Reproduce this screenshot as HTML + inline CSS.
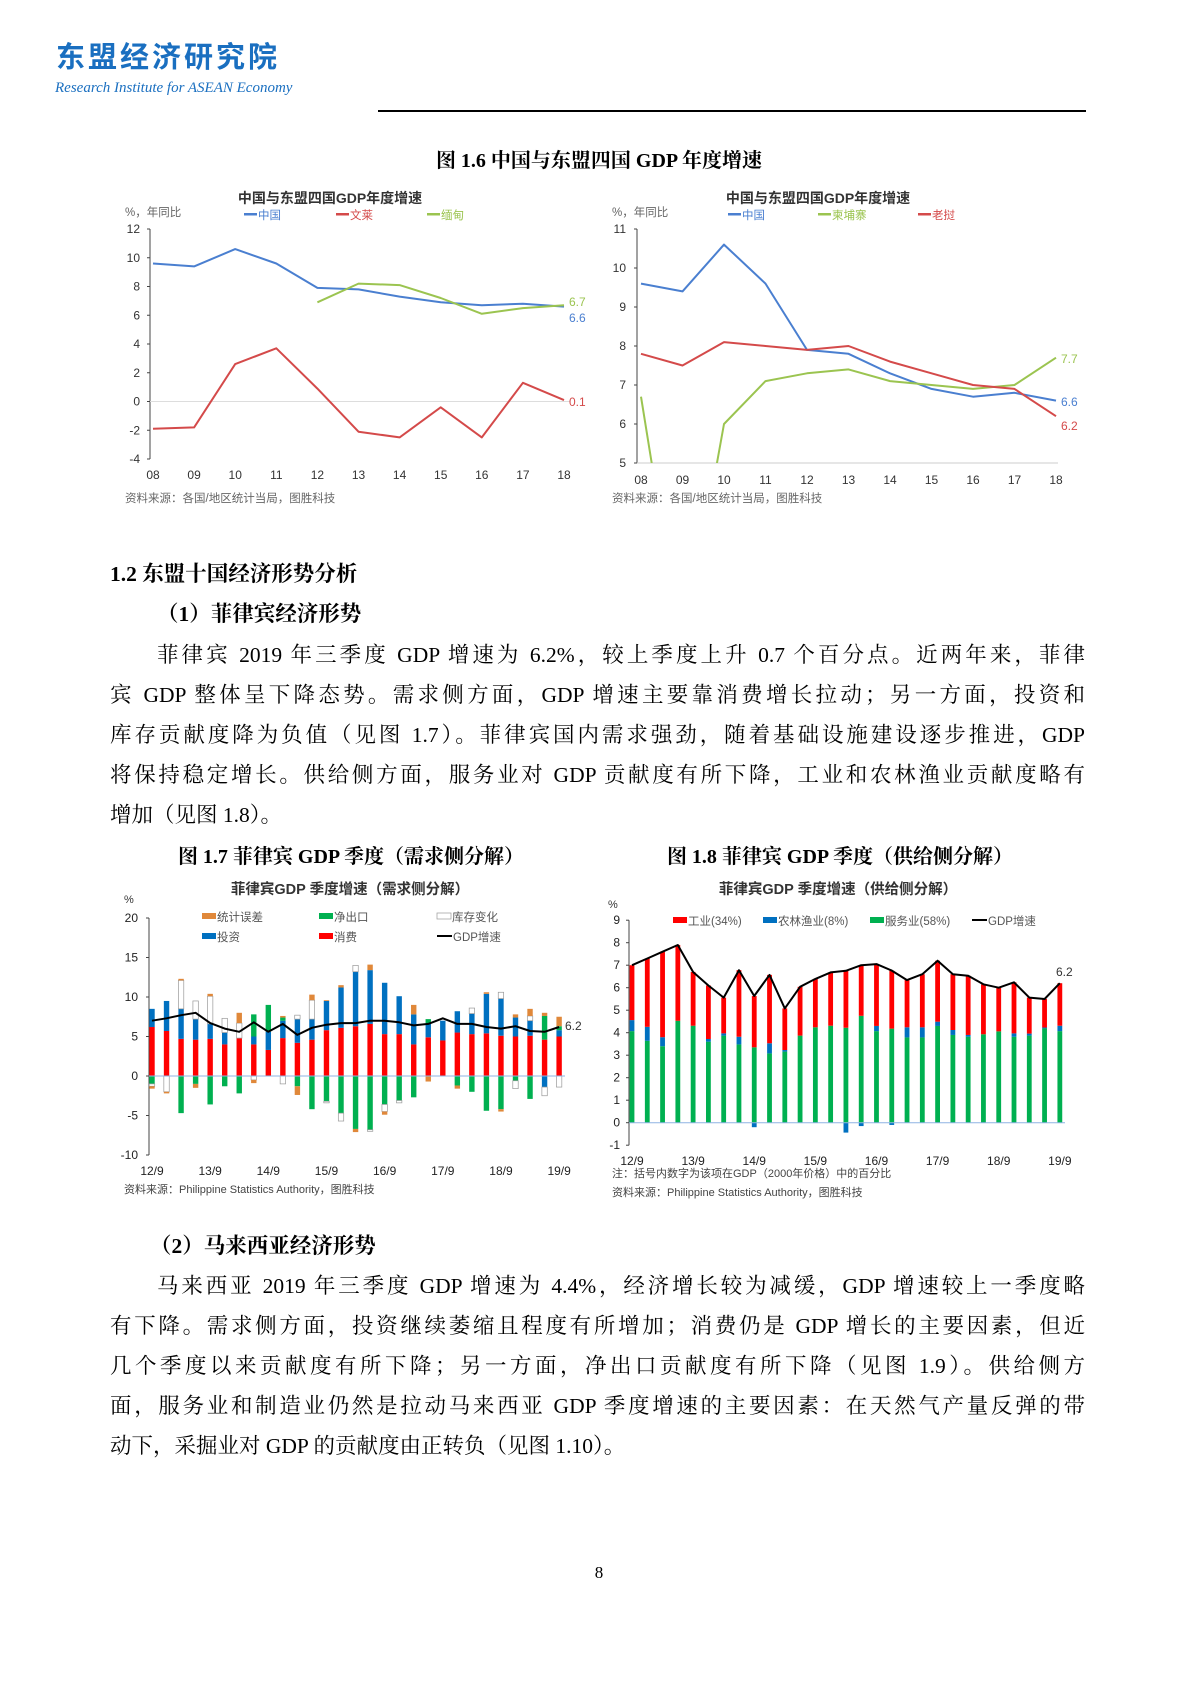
<!DOCTYPE html>
<html><head><meta charset="utf-8"><style>
body{margin:0;background:#fff;}
#page{position:relative;width:1191px;height:1684px;overflow:hidden;background:#fff;font-family:"Liberation Serif","Noto Serif CJK SC",serif;color:#000;}
.a{position:absolute;white-space:nowrap;}
.p{position:absolute;left:110px;width:975px;font-size:21.5px;line-height:40px;text-align:justify;text-align-last:justify;white-space:nowrap;}
.h{font-weight:bold;}
svg text{font-family:"Liberation Sans","Noto Sans CJK SC",sans-serif;}
</style></head><body>
<div id="page">
<div class="a" style="left:56px;top:34px;font-size:29px;font-weight:bold;color:#1a6fc0;letter-spacing:3px;font-family:'Noto Sans CJK SC',sans-serif;">东盟经济研究院</div>
<div class="a" style="left:55px;top:80px;font-size:15px;font-style:italic;color:#1a6fc0;">Research Institute for ASEAN Economy</div>
<div class="a" style="left:378px;top:110px;width:708px;height:2px;background:#000;"></div>
<div class="a h" style="left:599px;top:144px;transform:translateX(-50%);font-size:20px;">图 1.6 中国与东盟四国 GDP 年度增速</div>

<svg class="a" style="left:0;top:0" width="1191" height="1684">
<defs><clipPath id="clipR"><rect x="637" y="225" width="440" height="238"/></clipPath></defs>
<g id="c16l"></g>
<g id="c16r"></g>
<g id="c17"></g>
<g id="c18"></g>
</svg>

<div class="a h" style="left:110px;top:557px;font-size:21.5px;">1.2 东盟十国经济形势分析</div>
<div class="a h" style="left:157px;top:597px;font-size:21.5px;">（1）菲律宾经济形势</div>
<div>
<div class="p" style="top:635px;left:157px;width:928px;">菲律宾 2019 年三季度 GDP 增速为 6.2%，较上季度上升 0.7 个百分点。近两年来，菲律</div>
<div class="p" style="top:675px;">宾 GDP 整体呈下降态势。需求侧方面，GDP 增速主要靠消费增长拉动；另一方面，投资和</div>
<div class="p" style="top:715px;">库存贡献度降为负值（见图 1.7）。菲律宾国内需求强劲，随着基础设施建设逐步推进，GDP</div>
<div class="p" style="top:755px;">将保持稳定增长。供给侧方面，服务业对 GDP 贡献度有所下降，工业和农林渔业贡献度略有</div>
<div class="p" style="top:795px;text-align-last:left;">增加（见图 1.8）。</div>
</div>
<div class="a h" style="left:351px;top:840px;transform:translateX(-50%);font-size:20px;">图 1.7 菲律宾 GDP 季度（需求侧分解）</div>
<div class="a h" style="left:840px;top:840px;transform:translateX(-50%);font-size:20px;">图 1.8 菲律宾 GDP 季度（供给侧分解）</div>

<div class="a h" style="left:150px;top:1229px;font-size:21.5px;">（2）马来西亚经济形势</div>
<div>
<div class="p" style="top:1266px;left:157px;width:928px;">马来西亚 2019 年三季度 GDP 增速为 4.4%，经济增长较为减缓，GDP 增速较上一季度略</div>
<div class="p" style="top:1306px;">有下降。需求侧方面，投资继续萎缩且程度有所增加；消费仍是 GDP 增长的主要因素，但近</div>
<div class="p" style="top:1346px;">几个季度以来贡献度有所下降；另一方面，净出口贡献度有所下降（见图 1.9）。供给侧方</div>
<div class="p" style="top:1386px;">面，服务业和制造业仍然是拉动马来西亚 GDP 季度增速的主要因素：在天然气产量反弹的带</div>
<div class="p" style="top:1426px;text-align-last:left;">动下，采掘业对 GDP 的贡献度由正转负（见图 1.10）。</div>
</div>
<div class="a" style="left:599px;top:1563px;transform:translateX(-50%);font-size:17px;">8</div>
</div>

<script>
// ---- Chart 1.6 data ----
const years = ["08","09","10","11","12","13","14","15","16","17","18"];
const chinaGdp = [9.6,9.4,10.6,9.6,7.9,7.8,7.3,6.9,6.7,6.8,6.6];
const bruneiGdp = [-1.9,-1.8,2.6,3.7,0.9,-2.1,-2.5,-0.4,-2.5,1.3,0.1];
const myanmarGdp = [null,null,null,null,6.9,8.2,8.1,7.2,6.1,6.5,6.7];
const cambodiaGdp = [6.7,0.1,6.0,7.1,7.3,7.4,7.1,7.0,6.9,7.0,7.7];
const laosGdp = [7.8,7.5,8.1,8.0,7.9,8.0,7.6,7.3,7.0,6.9,6.2];
const leftTicks = [12,10,8,6,4,2,0,-2,-4];
const rightTicks = [11,10,9,8,7,6,5];
// ---- Chart 1.7 data ----
const quarters = ["12/9","","","","13/9","","","","14/9","","","","15/9","","","","16/9","","","","17/9","","","","18/9","","","","19/9"];
const consumption = [6.2,5.7,4.7,4.6,4.7,4.0,4.8,4.0,3.3,4.8,4.2,4.6,5.8,6.1,6.3,6.6,5.3,5.3,4.0,4.9,4.5,5.5,5.3,5.4,5.1,5.0,5.1,4.6,5.0];
const investment = [2.3,3.8,3.8,2.6,1.9,1.5,0,1.0,2.3,2.2,3.0,2.6,3.7,5.1,6.9,6.8,6.5,4.8,3.8,1.8,2.5,2.7,2.6,5.0,4.7,2.4,1.9,-1.4,0.8];
const netExports = [-1.0,0,-4.7,-1.0,-3.6,-1.3,-2.2,2.8,3.4,0.4,-1.3,-4.2,-3.2,-4.7,-6.7,-6.8,-3.6,-3.1,-2.7,0.5,0,-1.2,-2.0,-4.4,-4.2,-0.6,-2.9,3.0,0.5];
const inventory = [-0.3,-2.0,3.6,2.3,3.5,1.8,1.9,-0.5,0,-1.0,0.5,2.4,-0.2,-1.0,0.8,-0.2,-0.9,-0.3,0,0,0,0,0.7,0,0.8,-1.0,0.6,-1.1,-1.4];
const statDiscrepancy = [-0.3,-0.2,0.2,-0.5,0.3,0,1.3,-0.4,0,0.2,-1.1,0.7,0.1,0.3,-0.4,0.7,-0.4,0,1.2,-0.7,0,-0.4,0,0.2,-0.3,0.4,0.9,0.4,1.2];
const gdpDemand = [7.0,7.3,7.7,8.0,6.7,6.0,5.6,6.8,5.6,6.6,5.2,6.1,6.5,6.7,6.7,7.0,7.0,6.8,6.4,6.6,7.3,6.6,6.6,6.2,6.0,6.3,5.7,5.6,6.2];
const demandTicks = [20,15,10,5,0,-5,-10];
// ---- Chart 1.8 data ----
const services = [4.07,3.64,3.4,4.53,4.31,3.6,3.87,3.48,3.35,3.08,3.16,3.87,4.24,4.31,4.22,4.75,4.07,4.18,3.79,3.79,4.3,3.9,3.82,3.93,4.06,3.82,3.87,4.19,4.07];
const agriculture = [0.49,0.62,0.4,0,0,0.12,0.1,0.34,-0.2,0.45,0.07,0,0,0,-0.44,-0.15,0.23,-0.1,0.45,0.45,0.19,0.22,0.08,0,0,0.15,0.09,0.04,0.24];
const gdpSupply = [7.0,7.3,7.6,7.9,6.7,6.1,5.56,6.78,5.63,6.57,5.08,6.04,6.39,6.68,6.75,7.0,7.05,6.76,6.34,6.6,7.2,6.6,6.53,6.15,6.0,6.24,5.56,5.5,6.2];
const supplyTicks = [9,8,7,6,5,4,3,2,1,0,-1];

const NS="http://www.w3.org/2000/svg";
function mk(parent,tag,attrs,txt){const e=document.createElementNS(NS,tag);for(const k in attrs)e.setAttribute(k,attrs[k]);if(txt!==undefined)e.textContent=txt;parent.appendChild(e);return e;}
function lineFrom(g,vals,xf,yf,color,w,clip,name){let d="";let pen=false;vals.forEach((v,i)=>{if(v===null){pen=false;return;}d+=(pen?"L":"M")+xf(i).toFixed(1)+" "+yf(v).toFixed(1);pen=true;});
 const p=mk(g,"path",{d:d,fill:"none",stroke:color,"stroke-width":w,"stroke-linejoin":"round"});if(clip)p.setAttribute("clip-path",clip);
 
 
 return p;}

// ---- Chart 1.6 left ----
(function(){
 const g=document.getElementById("c16l");
 const x=i=>153+i*41.1, y=v=>229+(12-v)*14.375;
 const blue="#4a7fd0",red="#d44a4a",green="#9bc450",grey="#666";
 mk(g,"text",{x:330,y:203,"font-size":14,"text-anchor":"middle","font-weight":"bold",fill:"#333"},"中国与东盟四国GDP年度增速");
 mk(g,"text",{x:125,y:216,"font-size":11.5,fill:grey},"%，年同比");
 [["中国",blue,244],["文莱",red,336],["缅甸",green,427]].forEach(l=>{const r=mk(g,"rect",{x:l[2],y:213,width:13,height:2.5,fill:l[1]});
  
  
  mk(g,"text",{x:l[2]+14,y:219,"font-size":11.5,fill:l[1]},l[0]);});
 mk(g,"line",{x1:150,y1:229,x2:150,y2:459,stroke:"#444","stroke-width":1});
 leftTicks.forEach(t=>{mk(g,"line",{x1:147,y1:y(t),x2:150,y2:y(t),stroke:"#444"});mk(g,"text",{x:140,y:y(t)+4,"font-size":12,"text-anchor":"end",fill:"#333"},t);});
 mk(g,"line",{x1:150,y1:y(0),x2:570,y2:y(0),stroke:"#ddd"});
 years.forEach((t,i)=>mk(g,"text",{x:x(i),y:479,"font-size":12,"text-anchor":"middle",fill:"#333"},t));
 lineFrom(g,chinaGdp,x,y,blue,2,null,"china-line");
 lineFrom(g,bruneiGdp,x,y,red,2,null,"brunei-line");
 lineFrom(g,myanmarGdp,x,y,green,2,null,"myanmar-line");
 mk(g,"text",{x:569,y:306,"font-size":12,fill:green},myanmarGdp[10]);
 mk(g,"text",{x:569,y:322,"font-size":12,fill:blue},chinaGdp[10]);
 mk(g,"text",{x:569,y:406,"font-size":12,fill:red},bruneiGdp[10]);
 mk(g,"text",{x:125,y:502,"font-size":11.5,fill:grey},"资料来源：各国/地区统计当局，图胜科技");
})();
// ---- Chart 1.6 right ----
(function(){
 const g=document.getElementById("c16r");
 const x=i=>641+i*41.5, y=v=>229+(11-v)*39;
 const blue="#4a7fd0",red="#d44a4a",green="#9bc450",grey="#666";
 mk(g,"text",{x:818,y:203,"font-size":14,"text-anchor":"middle","font-weight":"bold",fill:"#333"},"中国与东盟四国GDP年度增速");
 mk(g,"text",{x:612,y:216,"font-size":11.5,fill:grey},"%，年同比");
 [["中国",blue,728],["柬埔寨",green,818],["老挝",red,918]].forEach(l=>{const r=mk(g,"rect",{x:l[2],y:213,width:13,height:2.5,fill:l[1]});
  
  
  mk(g,"text",{x:l[2]+14,y:219,"font-size":11.5,fill:l[1]},l[0]);});
 mk(g,"line",{x1:637,y1:229,x2:637,y2:463,stroke:"#444"});
 mk(g,"line",{x1:637,y1:463,x2:1058,y2:463,stroke:"#ccc"});
 rightTicks.forEach(t=>{mk(g,"line",{x1:634,y1:y(t),x2:637,y2:y(t),stroke:"#444"});mk(g,"text",{x:626,y:y(t)+4,"font-size":12,"text-anchor":"end",fill:"#333"},t);});
 years.forEach((t,i)=>mk(g,"text",{x:x(i),y:484,"font-size":12,"text-anchor":"middle",fill:"#333"},t));
 lineFrom(g,chinaGdp,x,y,blue,2,"url(#clipR)","china-line");
 lineFrom(g,cambodiaGdp,x,y,green,2,"url(#clipR)","cambodia-line");
 lineFrom(g,laosGdp,x,y,red,2,"url(#clipR)","laos-line");
 mk(g,"text",{x:1061,y:363,"font-size":12,fill:green},cambodiaGdp[10]);
 mk(g,"text",{x:1061,y:406,"font-size":12,fill:blue},chinaGdp[10]);
 mk(g,"text",{x:1061,y:430,"font-size":12,fill:red},laosGdp[10]);
 mk(g,"text",{x:612,y:502,"font-size":11.5,fill:grey},"资料来源：各国/地区统计当局，图胜科技");
})();
// ---- Chart 1.7 ----
(function(){
 const g=document.getElementById("c17");
 const x=i=>152+i*14.54, y=v=>1076-v*7.9, bw=5.4;
 mk(g,"text",{x:350,y:894,"font-size":14.5,"text-anchor":"middle","font-weight":"bold",fill:"#333"},"菲律宾GDP 季度增速（需求侧分解）");
 mk(g,"text",{x:124,y:903,"font-size":11,fill:"#333"},"%");
 const leg=[["统计误差","#e0883a",202,917],["净出口","#00b050",319,917],["库存变化","#fff",437,917],["投资","#0070c0",202,937],["消费","#ff0000",319,937]];
 leg.forEach(l=>{const r=mk(g,"rect",{x:l[2],y:l[3]-4,width:14,height:6,fill:l[1],stroke:l[1]=="#fff"?"#999":"none","stroke-width":0.7});
  
  
  mk(g,"text",{x:l[2]+15,y:l[3]+4,"font-size":11.5,fill:"#555"},l[0]);});
 mk(g,"line",{x1:437,y1:936,x2:452,y2:936,stroke:"#000","stroke-width":2});
 mk(g,"text",{x:453,y:941,"font-size":11.5,fill:"#555"},"GDP增速");
 mk(g,"line",{x1:149,y1:y(20),x2:149,y2:y(-10),stroke:"#444"});
 demandTicks.forEach(t=>{mk(g,"line",{x1:146,y1:y(t),x2:149,y2:y(t),stroke:"#444"});mk(g,"text",{x:138,y:y(t)+4,"font-size":12,"text-anchor":"end",fill:"#222"},t);});
 const series=[[consumption,"#ff0000","consumption-bar"],[investment,"#0070c0","investment-bar"],[netExports,"#00b050","net-exports-bar"],[inventory,"#fff","inventory-bar"],[statDiscrepancy,"#e0883a","stat-discrepancy-bar"]];
 quarters.forEach((q,i)=>{let pos=0,neg=0;
  series.forEach(s=>{const v=s[0][i];if(!v)return;let y0,y1;if(v>0){y0=pos;y1=pos+v;pos=y1;}else{y0=neg;y1=neg+v;neg=y1;}
   const r=mk(g,"rect",{x:x(i)-bw/2,y:Math.min(y(y0),y(y1)),width:bw,height:Math.abs(y(y1)-y(y0)),fill:s[1],stroke:s[1]=="#fff"?"#999":"none","stroke-width":0.7});
   
   
  });});
 mk(g,"line",{x1:149,y1:y(0),x2:565,y2:y(0),stroke:"#8fb4e3"});
 lineFrom(g,gdpDemand,x,y,"#000",2,null,"gdp-line");
 mk(g,"text",{x:565,y:y(gdpDemand[28])+3,"font-size":12,fill:"#333"},gdpDemand[28]);
 quarters.forEach((q,i)=>{if(q)mk(g,"text",{x:x(i),y:1175,"font-size":12,"text-anchor":"middle",fill:"#222"},q);});
 mk(g,"text",{x:124,y:1193,"font-size":11,fill:"#444"},"资料来源：Philippine Statistics Authority，图胜科技");
})();
// ---- Chart 1.8 ----
(function(){
 const g=document.getElementById("c18");
 const x=i=>632+i*15.28, y=v=>1122.7-v*22.5, bw=4.8;
 mk(g,"text",{x:838,y:894,"font-size":14.5,"text-anchor":"middle","font-weight":"bold",fill:"#333"},"菲律宾GDP 季度增速（供给侧分解）");
 mk(g,"text",{x:608,y:908,"font-size":11,fill:"#333"},"%");
 [["工业(34%)","#ff0000",673],["农林渔业(8%)","#0070c0",763],["服务业(58%)","#00b050",870]].forEach(l=>{const r=mk(g,"rect",{x:l[2],y:917,width:14,height:6,fill:l[1]});
  
  
  mk(g,"text",{x:l[2]+15,y:925,"font-size":11.5,fill:"#555"},l[0]);});
 mk(g,"line",{x1:972,y1:920,x2:987,y2:920,stroke:"#000","stroke-width":2});
 mk(g,"text",{x:988,y:925,"font-size":11.5,fill:"#555"},"GDP增速");
 mk(g,"line",{x1:629,y1:y(9),x2:629,y2:y(-1),stroke:"#444"});
 supplyTicks.forEach(t=>{mk(g,"line",{x1:626,y1:y(t),x2:629,y2:y(t),stroke:"#444"});mk(g,"text",{x:620,y:y(t)+4,"font-size":12,"text-anchor":"end",fill:"#222"},t);});
 quarters.forEach((q,i)=>{
  const s=services[i],a=agriculture[i],ind=gdpSupply[i]-s-Math.max(a,0);
  let r=mk(g,"rect",{x:x(i)-bw/2,y:y(s),width:bw,height:y(0)-y(s),fill:"#00b050"});
  
  
  if(a>0){r=mk(g,"rect",{x:x(i)-bw/2,y:y(s+a),width:bw,height:y(s)-y(s+a),fill:"#0070c0"});}
  else if(a<0){r=mk(g,"rect",{x:x(i)-bw/2,y:y(0),width:bw,height:y(a)-y(0),fill:"#0070c0"});}
  
  
  const base=s+Math.max(a,0);
  r=mk(g,"rect",{x:x(i)-bw/2,y:y(base+ind),width:bw,height:y(base)-y(base+ind),fill:"#ff0000"});
  
  
 });
 mk(g,"line",{x1:629,y1:y(0),x2:1065,y2:y(0),stroke:"#8fb4e3"});
 lineFrom(g,gdpSupply,x,y,"#000",2,null,"gdp-line");
 mk(g,"text",{x:1056,y:y(gdpSupply[28])-7,"font-size":12,fill:"#333"},gdpSupply[28]);
 quarters.forEach((q,i)=>{if(q)mk(g,"text",{x:x(i),y:1165,"font-size":12,"text-anchor":"middle",fill:"#222"},q);});
 mk(g,"text",{x:612,y:1177,"font-size":11,fill:"#444"},"注：括号内数字为该项在GDP（2000年价格）中的百分比");
 mk(g,"text",{x:612,y:1196,"font-size":11,fill:"#444"},"资料来源：Philippine Statistics Authority，图胜科技");
})();
</script>
</body></html>
